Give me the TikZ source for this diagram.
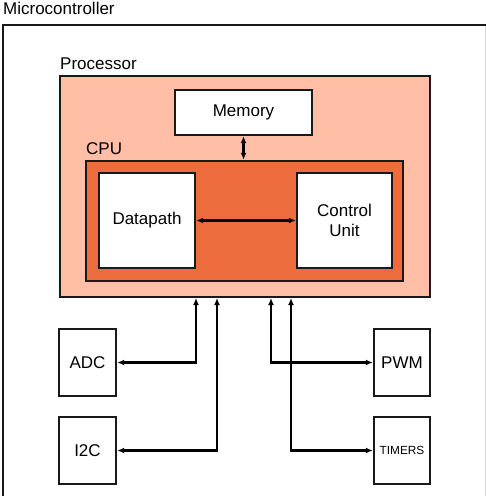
\documentclass[tikz,border=0pt]{standalone}
\usepackage{fontspec}
\setmainfont{Liberation Sans}
\usepackage{tikz}
\usetikzlibrary{arrows.meta}
\definecolor{Salmon}{RGB}{255,190,165}
\definecolor{Rust}{RGB}{237,108,61}
\definecolor{Ink}{RGB}{25,25,25}
\tikzstyle{none}=[inner sep=0pt]
\tikzstyle{label}=[inner sep=0pt,anchor=base west,font=\fontsize{17}{19}\selectfont]
\tikzstyle{box}=[draw=Ink,line width=2.4,fill=white,align=center,font=\fontsize{17}{19.5}\selectfont]
\tikzstyle{arrow}=[{Latex[length=7,width=6]}-{Latex[length=7,width=6]},draw=black,line width=2.2]

\begin{document}
\begin{tikzpicture}[x=1pt,y=-1pt]
 \useasboundingbox (0,0) rectangle (486,496);
 \node [style=none] (0) at (3, 500) {};
 \node [style=none] (1) at (3, 25) {};
 \node [style=none] (2) at (487, 25) {};
 \node [style=none] (3) at (485, 26) {};
 \node [style=none] (4) at (485, 500) {};
 \draw [draw=Ink,line width=2.4] (0.center) to (1.center) to (2.center);
 \draw [draw=black!15,line width=1] (3.center) to (4.center);
 \node [style=label] (mc) at (3, 14) {Microcontroller};
 \node [style=box,fill=Salmon,minimum width=370,minimum height=221] (proc) at (245, 186.5) {};
 \node [style=label] (proclabel) at (60, 69) {Processor};
 \node [style=box,minimum width=137,minimum height=45] (mem) at (243.5, 112.5) {Memory};
 \node [style=box,fill=Rust,minimum width=317,minimum height=120] (cpu) at (244.5, 221) {};
 \node [style=label] (cpulabel) at (86, 154) {CPU};
 \node [style=box,minimum width=96,minimum height=95] (dp) at (147, 220.5) {Datapath};
 \node [style=box,minimum width=95,minimum height=95] (cu) at (344.5, 220.5) {Control\\Unit};
 \node [style=box,minimum width=57,minimum height=67] (adc) at (87.5, 362.5) {ADC};
 \node [style=box,minimum width=57,minimum height=67] (i2c) at (87.5, 450.5) {I2C};
 \node [style=box,minimum width=56,minimum height=67] (pwm) at (402, 362.5) {PWM};
 \node [style=box,minimum width=56,minimum height=67,font=\fontsize{11.8}{13}\selectfont] (tim) at (402, 450.5) {TIMERS};
 \node [style=none] (5) at (196, 298) {};
 \node [style=none] (6) at (217, 298) {};
 \node [style=none] (7) at (271, 298) {};
 \node [style=none] (8) at (291, 298) {};
 \draw [style=arrow] (mem.south) to (mem.south |- cpu.north);
 \draw [style=arrow] (dp.east) to (cu.west);
 \draw [style=arrow] (adc.east) -| (5.center);
 \draw [style=arrow] (i2c.east) -| (6.center);
 \draw [style=arrow] (pwm.west) -| (7.center);
 \draw [style=arrow] (tim.west) -| (8.center);
\end{tikzpicture}
\end{document}
